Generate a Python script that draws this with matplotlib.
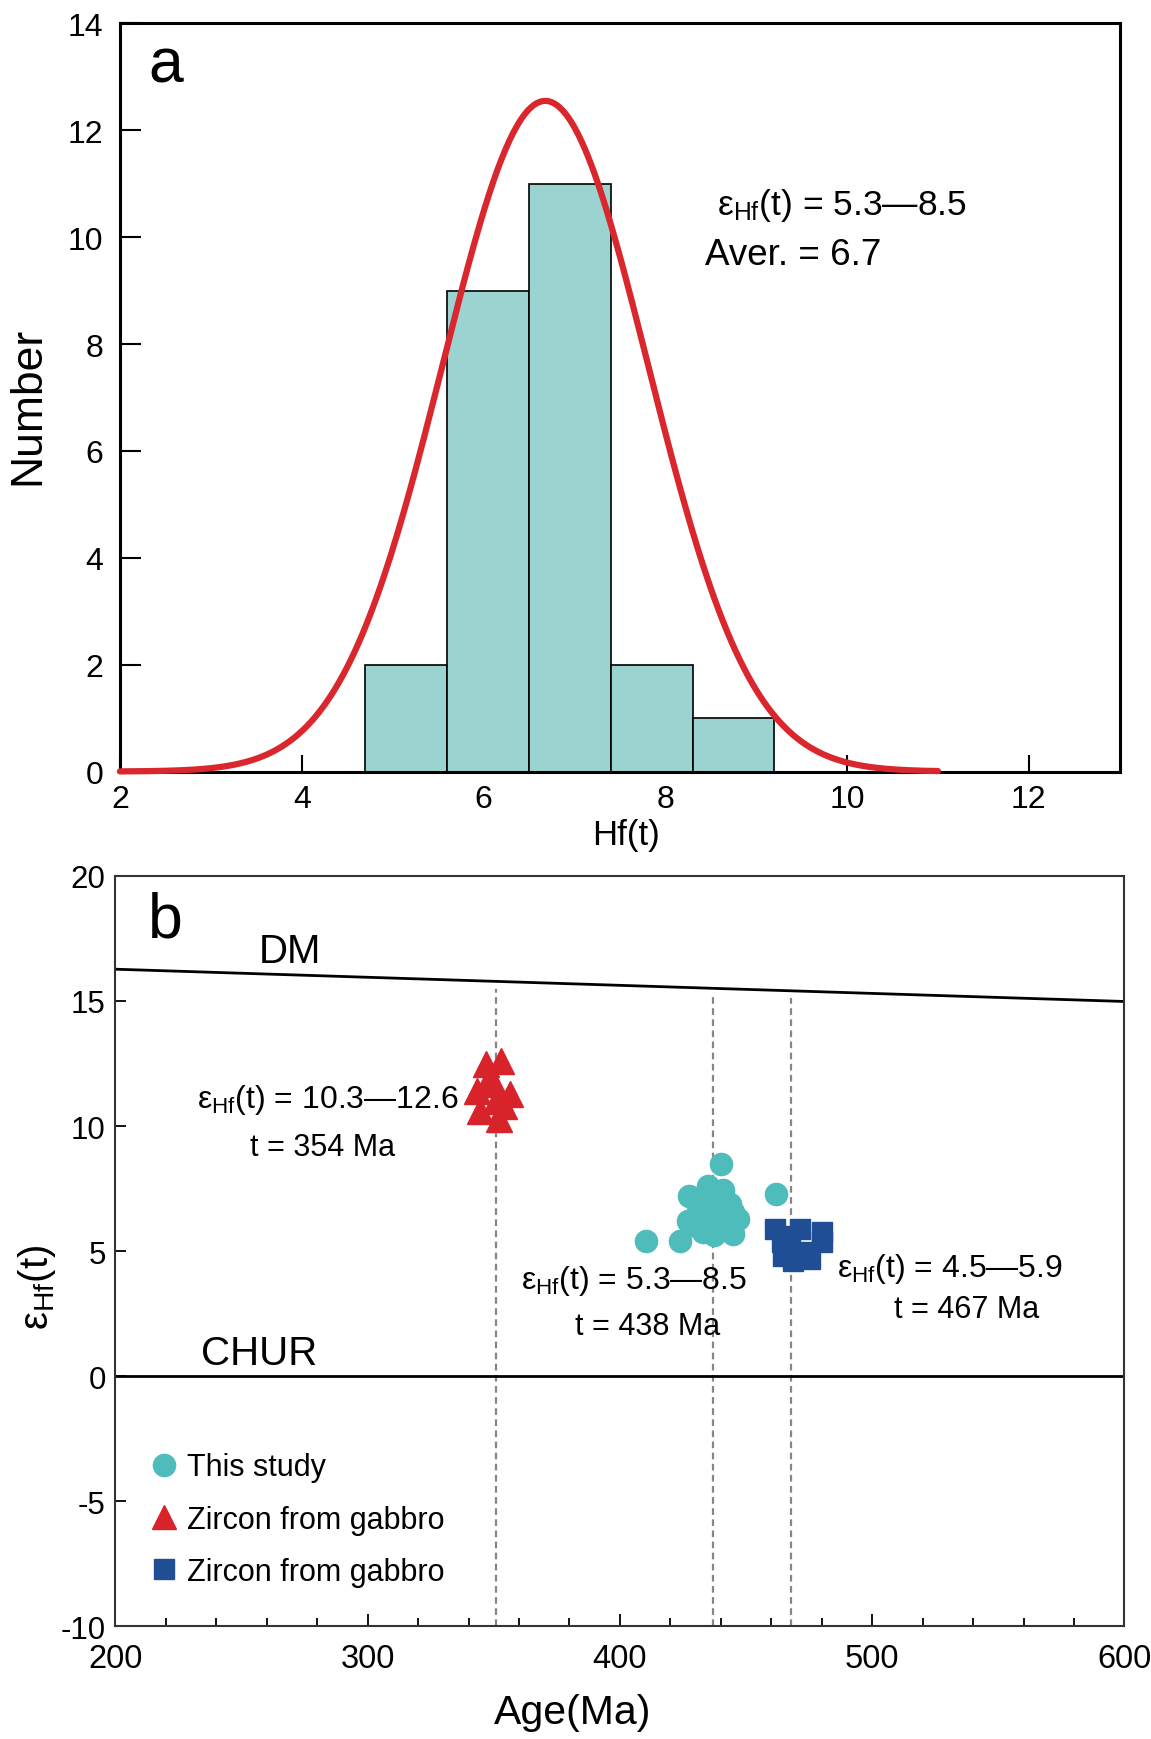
# -*- coding: utf-8 -*-
# Hf isotope figure: histogram (a) + eHf(t) vs age (b)

import numpy as np
import matplotlib as mpl
mpl.use('Agg')
import matplotlib.pyplot as plt
from matplotlib.lines import Line2D

plt.rcParams['font.family'] = ['Liberation Sans', 'DejaVu Sans']
plt.rcParams['mathtext.fontset'] = 'custom'
plt.rcParams['mathtext.rm'] = 'Liberation Sans'
plt.rcParams['mathtext.it'] = 'Liberation Sans:italic'
plt.rcParams['axes.unicode_minus'] = False

# ---- panel a data ----
bin_edges = [4.7, 5.6, 6.5, 7.4, 8.3, 9.2]
bin_counts = [2, 9, 11, 2, 1]
fit_mean = 6.68
fit_sigma = 1.13
fit_peak = 12.55
fit_range = [2.0, 11.0]

# ---- panel b data ----
study_age = [410.5, 424.0, 427.5, 435.0, 440.0, 462.0, 441.0,
             427.0, 433.0, 437.5, 445.0, 444.5, 430.0, 436.0, 441.0, 447.0,
             431.0, 438.5, 445.0, 433.5, 437.0, 442.0, 436.0, 440.0, 443.5]
study_eps = [5.4, 5.4, 7.2, 7.6, 8.5, 7.3, 7.45,
             6.2, 5.75, 5.65, 5.7, 6.45, 6.0, 6.3, 5.9, 6.3,
             6.6, 6.8, 6.55, 7.0, 7.2, 7.0, 6.6, 6.7, 6.9]

tri_age = [347, 353, 343.5, 356.5, 344.5, 352, 350, 351, 348, 354]
tri_eps = [12.5, 12.6, 11.4, 11.3, 10.6, 10.3, 11.7, 11.0, 11.9, 10.8]

sq_age = [461.5, 471.4, 480.0, 464.1, 472.7, 468.8, 480.0, 464.8, 475.4, 467.4]
sq_eps = [5.9, 5.9, 5.75, 5.35, 4.95, 4.6, 5.35, 4.8, 4.68, 5.6]

dm_age = [200, 600]
dm_eps = [16.27, 14.98]
ref_ages = [351, 437, 468]

c_hist = '#9ad3cf'
c_curve = '#da262d'
c_study = '#4fbcbc'
c_tri = '#d8232a'
c_sq = '#1f4e94'

fig = plt.figure(figsize=(11.51, 17.40), dpi=100)

# ================= panel a =================
ax1 = fig.add_axes([0.10417, 0.55603, 0.8687, 0.42994])
ax1.bar(bin_edges[:-1], bin_counts, width=np.diff(bin_edges), align='edge',
        color=c_hist, edgecolor='black', linewidth=1.2, zorder=2)
xs = np.linspace(fit_range[0], fit_range[1], 400)
ys = fit_peak * np.exp(-0.5 * ((xs - fit_mean) / fit_sigma) ** 2)
ax1.plot(xs, ys, color=c_curve, lw=4.5, solid_capstyle='round',
         zorder=4, clip_on=False)
ax1.set_xlim(2, 13)
ax1.set_ylim(0, 14)
ax1.set_xticks([2, 4, 6, 8, 10, 12])
ax1.set_yticks([0, 2, 4, 6, 8, 10, 12, 14])
ax1.tick_params(axis='x', direction='in', length=12, width=1.5,
                labelsize=23, pad=9)
ax1.tick_params(axis='y', direction='in', length=15, width=1.5,
                labelsize=23, pad=12)
for s in ax1.spines.values():
    s.set_linewidth(2.2)
    s.set_zorder(3)
ax1.set_ylabel('Number', fontsize=32)
ax1.yaxis.set_label_coords(-0.072, 0.49)
ax1.set_xlabel('Hf(t)', fontsize=25)
ax1.xaxis.set_label_coords(0.506, -0.062)
ax1.text(0.028, 0.9217, 'a', transform=ax1.transAxes, fontsize=45,
         ha='left', va='baseline')
ax1.text(8.566, 10.43, 'ε$_{\\mathrm{Hf}}$(t) = 5.3—8.5', fontsize=25.5,
         ha='left', va='baseline')
ax1.text(8.437, 9.50, 'Aver. = 6.7', fontsize=26.5, ha='left', va='baseline')

# ================= panel b =================
ax2 = fig.add_axes([0.10026, 0.06477, 0.87663, 0.43126])
ax2.set_xlim(200, 600)
ax2.set_ylim(-10, 20)

ax2.plot(dm_age, dm_eps, color='black', lw=2.0, zorder=2)
ax2.axhline(0, color='black', lw=2.0, zorder=2)
for a in ref_ages:
    top = np.interp(a, dm_age, dm_eps) - 0.3
    ax2.vlines(a, -10, top, colors='#8c8484', linestyles=(0, (3, 2)),
               lw=1.6, zorder=1)

ax2.plot(tri_age, tri_eps, ls='none', marker='^', ms=19, color=c_tri,
         mec=c_tri, zorder=3)
ax2.plot(study_age, study_eps, ls='none', marker='o', ms=16,
         color=c_study, mec=c_study, zorder=3)
ax2.plot(sq_age, sq_eps, ls='none', marker='s', ms=15, color=c_sq,
         mec=c_sq, zorder=3)

ax2.text(256.8, 17.0, 'DM', fontsize=29, ha='left', va='center')
ax2.text(233.9, 0.92, 'CHUR', fontsize=29, ha='left', va='center')

ax2.text(284.1, 10.75, 'ε$_{\\mathrm{Hf}}$(t) = 10.3—12.6', fontsize=23,
         ha='center', va='baseline')
ax2.text(282.1, 8.85, 't = 354 Ma', fontsize=22, ha='center', va='baseline')
ax2.text(405.6, 3.51, 'ε$_{\\mathrm{Hf}}$(t) = 5.3—8.5', fontsize=23,
         ha='center', va='baseline')
ax2.text(411.1, 1.68, 't = 438 Ma', fontsize=22, ha='center', va='baseline')
ax2.text(530.9, 4.0, 'ε$_{\\mathrm{Hf}}$(t) = 4.5—5.9', fontsize=23,
         ha='center', va='baseline')
ax2.text(537.4, 2.35, 't = 467 Ma', fontsize=22, ha='center', va='baseline')

ax2.text(0.032, 0.9186, 'b', transform=ax2.transAxes, fontsize=45,
         ha='left', va='baseline')

ax2.set_xticks([200, 300, 400, 500, 600])
ax2.set_xticks(np.arange(200, 601, 20), minor=True)
ax2.set_yticks([-10, -5, 0, 5, 10, 15, 20])
ax2.tick_params(axis='x', which='major', direction='in', length=9,
                width=1.3, labelsize=23.5, pad=12)
ax2.tick_params(axis='x', which='minor', direction='in', length=6,
                width=1.3)
ax2.tick_params(axis='y', direction='in', length=8, width=1.3,
                labelsize=22.5, pad=7)
for s in ax2.spines.values():
    s.set_linewidth(1.5)
    s.set_color('#333333')
ax2.set_xlabel('Age(Ma)', fontsize=29.5)
ax2.xaxis.set_label_coords(0.4535, -0.089)
ax2.set_ylabel('ε$_{\\mathrm{Hf}}$(t)', fontsize=29)
ax2.yaxis.set_label_coords(-0.057, 0.4527)

handles = [
    Line2D([], [], ls='none', marker='o', ms=16, color=c_study, mec=c_study),
    Line2D([], [], ls='none', marker='^', ms=17, color=c_tri, mec=c_tri),
    Line2D([], [], ls='none', marker='s', ms=15, color=c_sq, mec=c_sq),
]
labels = ['This study', 'Zircon from gabbro', 'Zircon from gabbro']
ax2.legend(handles, labels, loc='upper left', bbox_to_anchor=(0.0343, 0.232),
           frameon=False, fontsize=22, borderpad=0, borderaxespad=0,
           handlelength=0.9, handletextpad=0.3, labelspacing=0.735)

fig.savefig('out.png', dpi=100)
plt.close('all')
